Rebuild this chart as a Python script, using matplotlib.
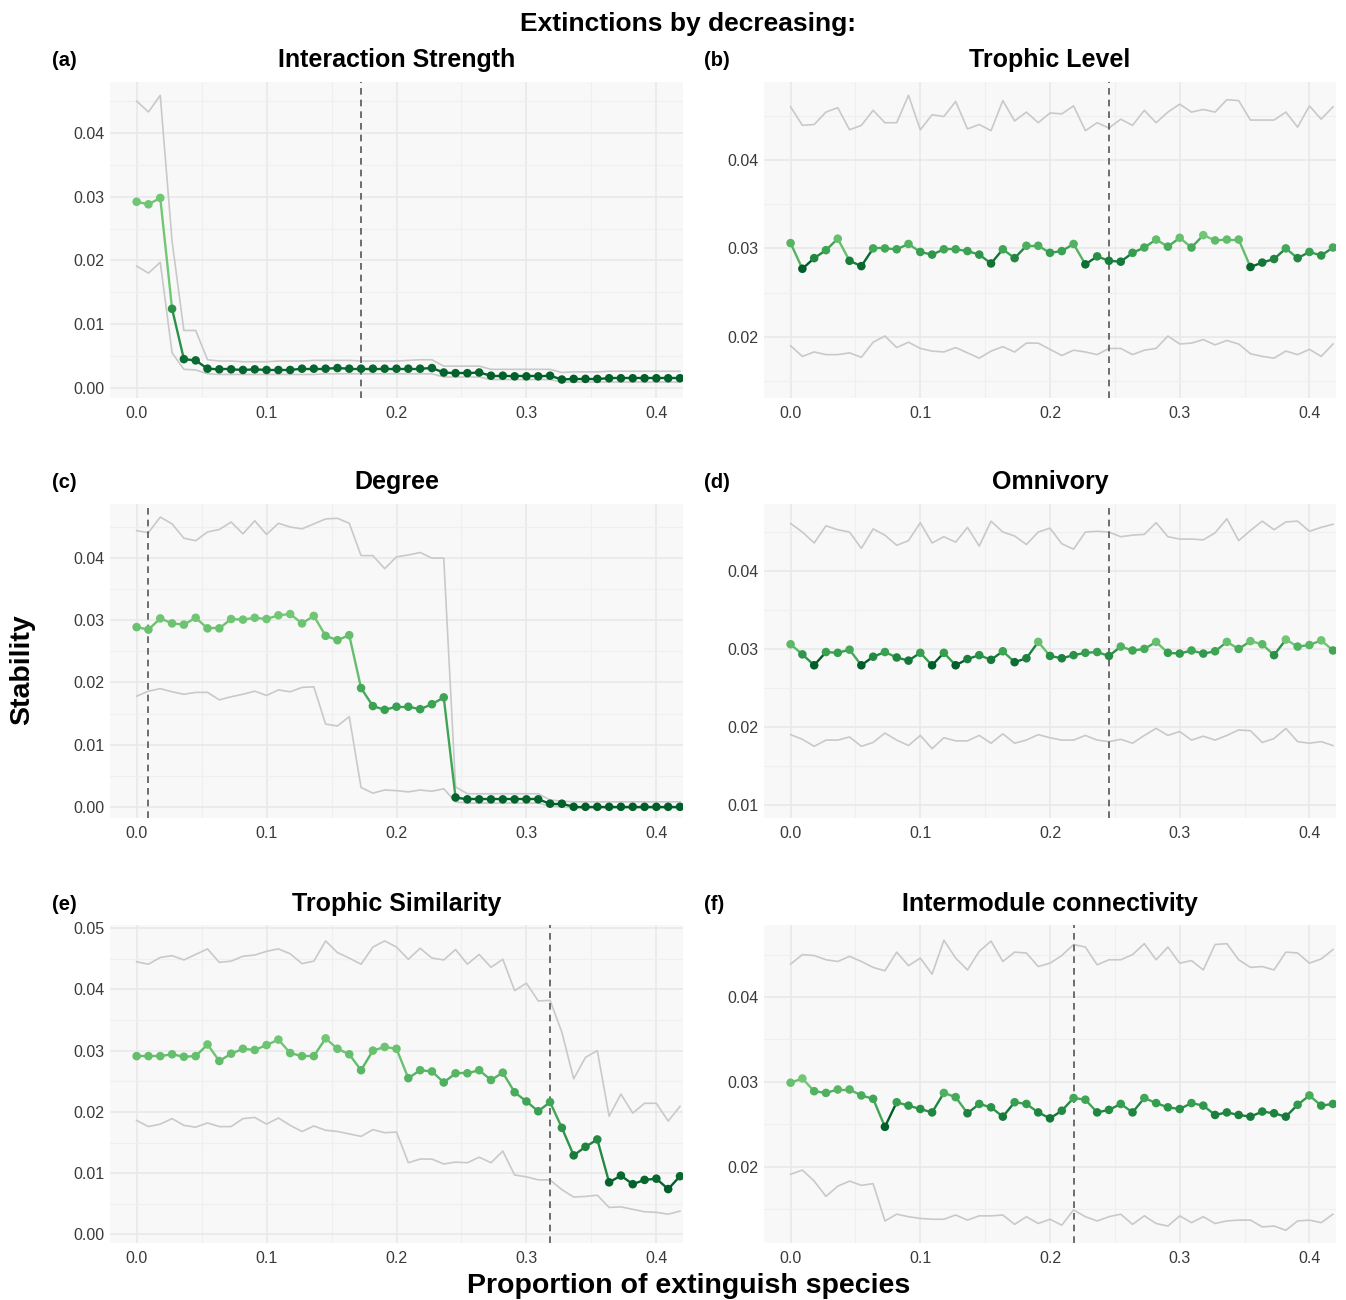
import numpy as np
import matplotlib
matplotlib.use("Agg")
import matplotlib.pyplot as plt
from matplotlib.collections import LineCollection
from matplotlib.colors import LinearSegmentedColormap, Normalize
from matplotlib.ticker import MultipleLocator, FormatStrFormatter

plt.rcParams['font.family'] = ['Liberation Sans', 'DejaVu Sans']

# ---------------- data ----------------
n_species = 110
steps = np.arange(47)
prop = steps / n_species          # proportion of extinguished species

titles = ["Interaction Strength", "Trophic Level", "Degree", "Omnivory",
          "Trophic Similarity", "Intermodule connectivity"]
tags = ["(a)", "(b)", "(c)", "(d)", "(e)", "(f)"]
threshold = [19 / 110, 27 / 110, 1 / 110, 27 / 110, 35 / 110, 24 / 110]

mean_a = [0.0292, 0.0288, 0.0298, 0.0124, 0.0045, 0.0043, 0.0030, 0.0029, 0.0029, 0.0028,
          0.0029, 0.0028, 0.0028, 0.0028, 0.0030, 0.0030, 0.0030, 0.0031, 0.0030, 0.0030,
          0.0030, 0.0030, 0.0030, 0.0030, 0.0030, 0.0031, 0.0024, 0.0023, 0.0023, 0.0024,
          0.0019, 0.0019, 0.0018, 0.0018, 0.0018, 0.0019, 0.0013, 0.0014, 0.0014, 0.0014,
          0.0015, 0.0015, 0.0015, 0.0015, 0.0015, 0.0015, 0.0015]
up_a = [0.0450, 0.0433, 0.0459, 0.0230, 0.0090, 0.0090, 0.0044, 0.0042, 0.0042, 0.0041,
        0.0041, 0.0041, 0.0042, 0.0042, 0.0042, 0.0043, 0.0043, 0.0043, 0.0043, 0.0042,
        0.0042, 0.0042, 0.0042, 0.0043, 0.0044, 0.0044, 0.0034, 0.0034, 0.0034, 0.0034,
        0.0029, 0.0029, 0.0029, 0.0029, 0.0029, 0.0029, 0.0024, 0.0025, 0.0025, 0.0025,
        0.0026, 0.0026, 0.0026, 0.0026, 0.0026, 0.0026, 0.0026]
lo_a = [0.0191, 0.0180, 0.0197, 0.0055, 0.0029, 0.0028, 0.0022, 0.0021, 0.0021, 0.0021,
        0.0021, 0.0021, 0.0021, 0.0021, 0.0021, 0.0021, 0.0022, 0.0022, 0.0022, 0.0022,
        0.0022, 0.0022, 0.0022, 0.0022, 0.0022, 0.0022, 0.0017, 0.0017, 0.0017, 0.0017,
        0.0013, 0.0013, 0.0013, 0.0013, 0.0013, 0.0013, 0.0009, 0.0009, 0.0009, 0.0009,
        0.0009, 0.0009, 0.0009, 0.0009, 0.0009, 0.0009, 0.0009]

mean_b = [0.0306, 0.0277, 0.0289, 0.0298, 0.0311, 0.0286, 0.0280, 0.0300, 0.0300, 0.0299,
          0.0305, 0.0296, 0.0293, 0.0299, 0.0299, 0.0297, 0.0293, 0.0283, 0.0299, 0.0289,
          0.0303, 0.0303, 0.0295, 0.0297, 0.0305, 0.0282, 0.0291, 0.0286, 0.0285, 0.0295,
          0.0301, 0.0310, 0.0302, 0.0312, 0.0301, 0.0315, 0.0309, 0.0310, 0.0310, 0.0279,
          0.0284, 0.0288, 0.0300, 0.0289, 0.0296, 0.0292, 0.0301]
up_b = [0.0460, 0.0439, 0.0440, 0.0454, 0.0459, 0.0434, 0.0439, 0.0456, 0.0442, 0.0442,
        0.0473, 0.0434, 0.0451, 0.0449, 0.0466, 0.0435, 0.0440, 0.0433, 0.0467, 0.0444,
        0.0454, 0.0442, 0.0453, 0.0452, 0.0461, 0.0433, 0.0442, 0.0436, 0.0446, 0.0439,
        0.0456, 0.0442, 0.0454, 0.0463, 0.0454, 0.0457, 0.0454, 0.0468, 0.0467, 0.0445,
        0.0445, 0.0445, 0.0454, 0.0437, 0.0461, 0.0446, 0.0460]
lo_b = [0.0190, 0.0178, 0.0183, 0.0180, 0.0180, 0.0182, 0.0177, 0.0194, 0.0201, 0.0188,
        0.0194, 0.0187, 0.0184, 0.0183, 0.0188, 0.0182, 0.0176, 0.0184, 0.0189, 0.0183,
        0.0193, 0.0193, 0.0186, 0.0179, 0.0185, 0.0183, 0.0180, 0.0187, 0.0187, 0.0180,
        0.0185, 0.0187, 0.0201, 0.0192, 0.0193, 0.0197, 0.0191, 0.0196, 0.0192, 0.0181,
        0.0178, 0.0176, 0.0184, 0.0180, 0.0186, 0.0178, 0.0192]

mean_c = [0.0289, 0.0285, 0.0303, 0.0295, 0.0293, 0.0304, 0.0287, 0.0287, 0.0302, 0.0301,
          0.0304, 0.0302, 0.0308, 0.0310, 0.0295, 0.0307, 0.0275, 0.0268, 0.0276, 0.0191,
          0.0162, 0.0156, 0.0161, 0.0161, 0.0157, 0.0165, 0.0176, 0.0015, 0.0012, 0.0012,
          0.0012, 0.0012, 0.0012, 0.0012, 0.0012, 0.0005, 0.0005, 0.0000, 0.0000, 0.0000,
          0.0000, 0.0000, 0.0000, 0.0000, 0.0000, 0.0000, 0.0000]
up_c = [0.0444, 0.0441, 0.0466, 0.0455, 0.0432, 0.0428, 0.0442, 0.0446, 0.0458, 0.0439,
        0.0460, 0.0438, 0.0456, 0.0450, 0.0447, 0.0455, 0.0463, 0.0464, 0.0456, 0.0404,
        0.0404, 0.0383, 0.0402, 0.0405, 0.0409, 0.0400, 0.0400, 0.0032, 0.0021, 0.0021,
        0.0021, 0.0021, 0.0021, 0.0021, 0.0021, 0.0011, 0.0009, 0.0008, 0.0008, 0.0008,
        0.0008, 0.0008, 0.0008, 0.0008, 0.0008, 0.0008, 0.0008]
lo_c = [0.0178, 0.0186, 0.0190, 0.0185, 0.0181, 0.0184, 0.0184, 0.0172, 0.0177, 0.0181,
        0.0186, 0.0179, 0.0188, 0.0185, 0.0192, 0.0193, 0.0133, 0.0130, 0.0145, 0.0031,
        0.0022, 0.0027, 0.0026, 0.0024, 0.0027, 0.0025, 0.0029, 0.0008, 0.0006, 0.0006,
        0.0006, 0.0006, 0.0006, 0.0006, 0.0006, 0.0001, 0.0000, -0.0002, -0.0002, -0.0002,
        -0.0002, -0.0002, -0.0002, -0.0002, -0.0002, -0.0002, -0.0002]

mean_d = [0.0306, 0.0293, 0.0279, 0.0296, 0.0295, 0.0299, 0.0279, 0.0290, 0.0296, 0.0289,
          0.0285, 0.0295, 0.0279, 0.0295, 0.0279, 0.0287, 0.0292, 0.0286, 0.0297, 0.0283,
          0.0288, 0.0309, 0.0291, 0.0288, 0.0292, 0.0295, 0.0296, 0.0291, 0.0303, 0.0298,
          0.0300, 0.0309, 0.0295, 0.0294, 0.0298, 0.0294, 0.0297, 0.0309, 0.0300, 0.0310,
          0.0306, 0.0292, 0.0312, 0.0303, 0.0305, 0.0311, 0.0298]
up_d = [0.0461, 0.0450, 0.0436, 0.0458, 0.0453, 0.0450, 0.0429, 0.0454, 0.0446, 0.0433,
        0.0439, 0.0462, 0.0436, 0.0444, 0.0437, 0.0456, 0.0432, 0.0464, 0.0450, 0.0445,
        0.0434, 0.0450, 0.0455, 0.0435, 0.0428, 0.0450, 0.0451, 0.0450, 0.0444, 0.0446,
        0.0447, 0.0462, 0.0444, 0.0441, 0.0441, 0.0440, 0.0449, 0.0467, 0.0439, 0.0452,
        0.0464, 0.0453, 0.0463, 0.0464, 0.0451, 0.0456, 0.0460]
lo_d = [0.0190, 0.0184, 0.0175, 0.0183, 0.0183, 0.0187, 0.0175, 0.0180, 0.0192, 0.0183,
        0.0176, 0.0189, 0.0172, 0.0186, 0.0182, 0.0182, 0.0189, 0.0179, 0.0191, 0.0179,
        0.0183, 0.0190, 0.0186, 0.0183, 0.0183, 0.0189, 0.0183, 0.0181, 0.0184, 0.0179,
        0.0189, 0.0198, 0.0189, 0.0194, 0.0183, 0.0188, 0.0183, 0.0189, 0.0196, 0.0195,
        0.0180, 0.0185, 0.0198, 0.0181, 0.0179, 0.0181, 0.0176]

mean_e = [0.0291, 0.0291, 0.0291, 0.0294, 0.0290, 0.0291, 0.0310, 0.0283, 0.0295, 0.0303,
          0.0301, 0.0309, 0.0318, 0.0296, 0.0291, 0.0291, 0.0320, 0.0303, 0.0294, 0.0268,
          0.0300, 0.0306, 0.0303, 0.0255, 0.0268, 0.0266, 0.0248, 0.0263, 0.0263, 0.0268,
          0.0252, 0.0264, 0.0232, 0.0217, 0.0201, 0.0216, 0.0174, 0.0129, 0.0143, 0.0155,
          0.0085, 0.0096, 0.0082, 0.0089, 0.0091, 0.0074, 0.0095]
up_e = [0.0445, 0.0441, 0.0452, 0.0455, 0.0448, 0.0457, 0.0466, 0.0444, 0.0446, 0.0454,
        0.0456, 0.0462, 0.0466, 0.0458, 0.0442, 0.0446, 0.0479, 0.0460, 0.0451, 0.0441,
        0.0469, 0.0479, 0.0469, 0.0449, 0.0467, 0.0451, 0.0448, 0.0465, 0.0441, 0.0457,
        0.0436, 0.0449, 0.0398, 0.0410, 0.0381, 0.0382, 0.0330, 0.0254, 0.0289, 0.0300,
        0.0193, 0.0229, 0.0198, 0.0214, 0.0214, 0.0185, 0.0209]
lo_e = [0.0186, 0.0176, 0.0180, 0.0189, 0.0178, 0.0175, 0.0182, 0.0176, 0.0176, 0.0189,
        0.0191, 0.0180, 0.0190, 0.0178, 0.0168, 0.0177, 0.0170, 0.0168, 0.0164, 0.0160,
        0.0171, 0.0166, 0.0167, 0.0117, 0.0123, 0.0123, 0.0115, 0.0118, 0.0117, 0.0126,
        0.0117, 0.0136, 0.0097, 0.0094, 0.0089, 0.0089, 0.0073, 0.0061, 0.0062, 0.0064,
        0.0044, 0.0045, 0.0041, 0.0037, 0.0036, 0.0033, 0.0038]

mean_f = [0.0299, 0.0304, 0.0289, 0.0287, 0.0291, 0.0291, 0.0284, 0.0280, 0.0247, 0.0276,
          0.0272, 0.0268, 0.0264, 0.0287, 0.0282, 0.0263, 0.0274, 0.0270, 0.0259, 0.0276,
          0.0274, 0.0264, 0.0257, 0.0266, 0.0281, 0.0279, 0.0264, 0.0267, 0.0274, 0.0264,
          0.0281, 0.0275, 0.0270, 0.0268, 0.0275, 0.0272, 0.0261, 0.0264, 0.0261, 0.0259,
          0.0265, 0.0263, 0.0259, 0.0273, 0.0284, 0.0272, 0.0274]
up_f = [0.0439, 0.0450, 0.0449, 0.0444, 0.0442, 0.0448, 0.0442, 0.0435, 0.0431, 0.0453,
        0.0437, 0.0446, 0.0427, 0.0467, 0.0446, 0.0432, 0.0454, 0.0466, 0.0442, 0.0453,
        0.0452, 0.0436, 0.0440, 0.0449, 0.0462, 0.0459, 0.0438, 0.0444, 0.0444, 0.0450,
        0.0463, 0.0444, 0.0459, 0.0440, 0.0443, 0.0432, 0.0462, 0.0463, 0.0444, 0.0435,
        0.0436, 0.0432, 0.0453, 0.0452, 0.0440, 0.0445, 0.0456]
lo_f = [0.0191, 0.0196, 0.0183, 0.0165, 0.0177, 0.0183, 0.0178, 0.0180, 0.0136, 0.0144,
        0.0141, 0.0139, 0.0138, 0.0138, 0.0143, 0.0137, 0.0142, 0.0142, 0.0143, 0.0132,
        0.0141, 0.0133, 0.0138, 0.0131, 0.0149, 0.0141, 0.0136, 0.0141, 0.0144, 0.0132,
        0.0142, 0.0133, 0.0130, 0.0142, 0.0134, 0.0141, 0.0133, 0.0136, 0.0137, 0.0137,
        0.0129, 0.0130, 0.0125, 0.0136, 0.0137, 0.0134, 0.0144]

means = [mean_a, mean_b, mean_c, mean_d, mean_e, mean_f]
uppers = [up_a, up_b, up_c, up_d, up_e, up_f]
lowers = [lo_a, lo_b, lo_c, lo_d, lo_e, lo_f]

ylims = [(-0.0016, 0.0480), (0.0131, 0.0488), (-0.0018, 0.0487),
         (0.0083, 0.0486), (-0.0014, 0.0505), (0.0110, 0.0485)]

# ---------------- layout ----------------
W, H = 1346, 1300
fig = plt.figure(figsize=(W / 100, H / 100), dpi=100)
fig.patch.set_facecolor('white')

cols = [(110, 683), (764, 1336)]
rows = [(82, 398), (504, 818), (925, 1243)]
title_base = [67, 489, 911]

cmap = LinearSegmentedColormap.from_list('grn', ['#005e2a', '#37a050', '#72c775'])

for k in range(6):
    r, c = divmod(k, 2)
    x0, x1 = cols[c]
    y0, y1 = rows[r]
    ax = fig.add_axes([x0 / W, 1 - y1 / H, (x1 - x0) / W, (y1 - y0) / H])
    ax.set_facecolor('#f8f8f8')
    for s in ax.spines.values():
        s.set_visible(False)
    ax.set_xlim(-0.0205, 0.4205)
    ax.set_ylim(*ylims[k])
    ax.xaxis.set_major_locator(MultipleLocator(0.1))
    ax.xaxis.set_minor_locator(MultipleLocator(0.05))
    ax.yaxis.set_major_locator(MultipleLocator(0.01))
    ax.yaxis.set_minor_locator(MultipleLocator(0.005))
    ax.xaxis.set_major_formatter(FormatStrFormatter('%.1f'))
    ax.yaxis.set_major_formatter(FormatStrFormatter('%.2f'))
    ax.grid(which='major', color='#e8e8e8', linewidth=1.1)
    ax.grid(which='minor', color='#efefef', linewidth=0.8)
    ax.set_axisbelow(True)
    ax.tick_params(which='both', length=0)
    ax.tick_params(axis='x', labelsize=11.5, labelcolor='#3a3a3a', pad=6)
    ax.tick_params(axis='y', labelsize=11.5, labelcolor='#3a3a3a', pad=4)

    m = np.array(means[k])
    ax.plot(prop, uppers[k], color='#c9c9c9', lw=1.2, zorder=2)
    ax.plot(prop, lowers[k], color='#c9c9c9', lw=1.2, zorder=2)
    ax.axvline(threshold[k], color='#555555', lw=1.2, ls=(0, (4, 3)), zorder=3)

    norm = Normalize(vmin=m.min(), vmax=m.max())
    pts = np.column_stack([prop, m])
    segs = np.stack([pts[:-1], pts[1:]], axis=1)
    lc = LineCollection(segs, colors=cmap(norm(m[:-1])), linewidths=1.7, zorder=4)
    ax.add_collection(lc)
    ax.scatter(prop, m, c=m, cmap=cmap, norm=norm, s=38, zorder=5, linewidths=0,
               clip_on=True)

    cx = (x0 + x1) / 2
    fig.text(cx / W, 1 - title_base[r] / H, titles[k], ha='center', va='baseline',
             fontsize=18, fontweight='bold')
    tx = 52 if c == 0 else 704
    fig.text(tx / W, 1 - (title_base[r] - 1) / H, tags[k], ha='left', va='baseline',
             fontsize=14.5, fontweight='bold')

fig.text(688 / W, 1 - 31 / H, "Extinctions by decreasing:", ha='center', va='baseline',
         fontsize=19, fontweight='bold')
fig.text(689 / W, 1 - 1293 / H, "Proportion of extinguish species", ha='center',
         va='baseline', fontsize=20.5, fontweight='bold')
fig.text(22 / W, 1 - 670 / H, "Stability", ha='center', va='center', rotation=90,
         fontsize=20.5, fontweight='bold')

fig.savefig('out.png', dpi=100, facecolor='white')
